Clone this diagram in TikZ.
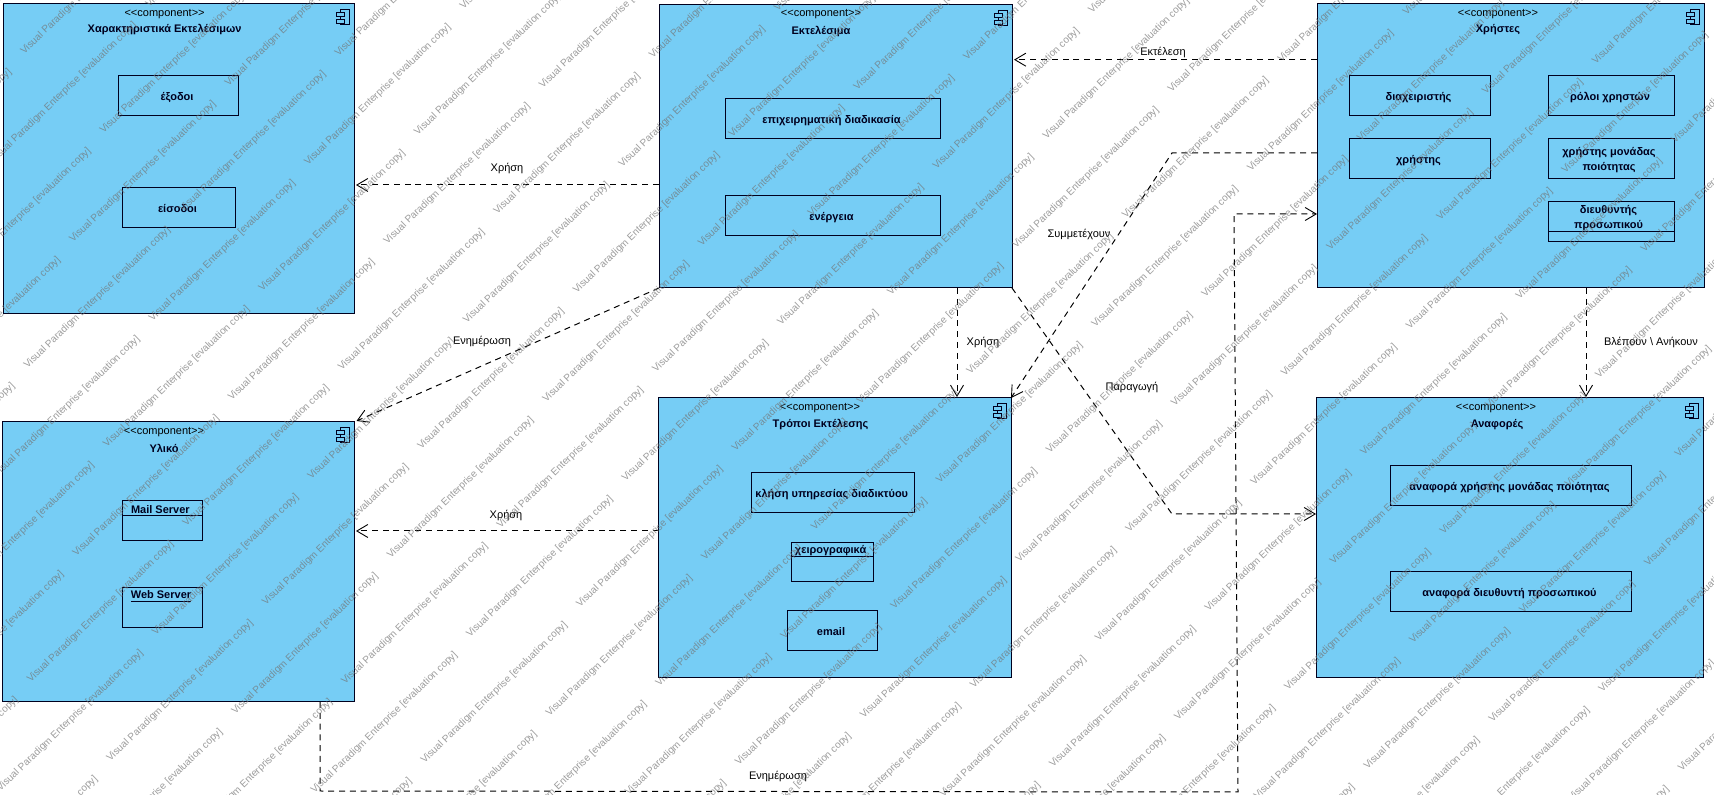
\documentclass[tikz,border=0pt]{standalone}
\usepackage{fontspec}
\setmainfont{Liberation Sans}
\usetikzlibrary{arrows.meta}
\definecolor{compblue}{RGB}{118,205,245}
\definecolor{inkline}{RGB}{0,0,30}
\definecolor{wmgray}{RGB}{115,115,115}
\newcommand{\sz}{\fontsize{5.5}{7.5}\selectfont}
\newcommand{\stereotext}{<{}<component>{}>}
\tikzset{
  x=0.5pt,y=-0.5pt,
  compbox/.style={draw=inkline,fill=compblue,line width=0.5pt,inner sep=0pt,outer sep=0pt},
  partbox/.style={draw=inkline,line width=0.5pt,inner sep=0pt,outer sep=0pt,align=center,font=\sz\bfseries,text=inkline,text height=5.3pt,text depth=1.2pt},
  stereo/.style={inner sep=0pt,font=\sz,text=black},
  compname/.style={inner sep=0pt,font=\sz\bfseries,text=inkline},
  parttitle/.style={inner sep=0pt,font=\sz\bfseries,text=inkline},
  lbl/.style={inner sep=0pt,font=\sz,text=black},
  depline/.style={draw=black,line width=0.5pt,dash pattern=on 3pt off 2.4pt,-{Straight Barb[length=5.5pt,width=6.5pt,line width=0.45pt]}},
  iconline/.style={draw=inkline,line width=0.5pt,fill=compblue},
  wmark/.style={inner sep=0pt,anchor=base west,rotate=44,font=\fontsize{5}{6}\selectfont,text=wmgray,text opacity=0.7},
}
% [style]{name}{x1}{y1}{x2}{y2}{text}
\newcommand{\umlbox}[7][]{%
  \node[#1,minimum width={(#5-#3)*0.5pt},minimum height={(#6-#4)*0.5pt}] (#2) at ({(#3+#5)/2},{(#4+#6)/2}) {#7\hspace*{1pt}};}
\newcommand{\compicon}[1]{%
  \draw[iconline,shift={(#1.north east)}] (-14,6) rectangle (-5,21);
  \draw[iconline,shift={(#1.north east)}] (-17.3,8.7) rectangle (-10,13);
  \draw[iconline,shift={(#1.north east)}] (-17.3,15.7) rectangle (-10,20);}
\begin{document}
\begin{tikzpicture}
\fill[white,use as bounding box] (0,0) rectangle (1714,795);
\begin{scope}[shift={(0,1)}]
% components
\umlbox[compbox]{A}{3}{3}{354}{313}{}
\umlbox[compbox]{B}{659}{4}{1012}{287}{}
\umlbox[compbox]{U}{1317}{3}{1704}{287}{}
\umlbox[compbox]{C}{658.5}{397}{1011}{677}{}
\umlbox[compbox]{E}{2.5}{421}{354}{701}{}
\umlbox[compbox]{D}{1316}{397}{1703}{677}{}
\compicon{A}\compicon{B}\compicon{U}\compicon{C}\compicon{E}\compicon{D}
% titles
\node[stereo] (As) at (164.6,13) {\stereotext};
\node[compname] (An) at (164.6,29) {Χαρακτηριστικά Εκτελέσιμων};
\node[stereo] (Bs) at (821,13.5) {\stereotext};
\node[compname] (Bn) at (821,30) {Εκτελέσιμα};
\node[stereo] (Us) at (1498,13) {\stereotext};
\node[compname] (Un) at (1498,29) {Χρήστες};
\node[stereo] (Cs) at (820,407.5) {\stereotext};
\node[compname] (Cn) at (820.5,424) {Τρόποι Εκτέλεσης};
\node[stereo] (Es) at (164,431) {\stereotext};
\node[compname] (En) at (164,447) {Υλικό};
\node[stereo] (Ds) at (1496,407.5) {\stereotext};
\node[compname] (Dn) at (1497,424) {Αναφορές};
% parts
\umlbox[partbox]{a1}{118}{75}{238}{115}{έξοδοι}
\umlbox[partbox]{a2}{122}{187}{235}{227}{είσοδοι}
\umlbox[partbox]{b1}{725}{98}{940}{138}{επιχειρηματική διαδικασία}
\umlbox[partbox]{b2}{725}{195}{940}{235}{ενέργεια}
\umlbox[partbox]{u1}{1349}{75}{1490}{115}{διαχειριστής}
\umlbox[partbox]{u2}{1349}{138}{1490}{178}{χρήστης}
\umlbox[partbox]{u3}{1548}{75}{1674}{115}{ρόλοι χρηστών}
\umlbox[partbox]{u4}{1548}{138}{1674}{178}{}
\node[parttitle,align=center] (u4t) at (1609,159) {χρήστης μονάδας\\ποιότητας};
\umlbox[partbox]{u5}{1548}{201}{1674}{241}{}
\node[parttitle,align=center] (u5t) at (1608.5,217) {διευθυντής\\προσωπικού};
\draw[draw=inkline,line width=0.5pt] (u5.west |- 0,231) -- (u5.east |- 0,231);
\umlbox[partbox]{c1}{751.5}{472}{914}{512}{κλήση υπηρεσίας διαδικτύου}
\umlbox[partbox]{c2}{791.5}{542}{873.6}{581}{}
\node[parttitle] (c2t) at (830.6,550) {χειρογραφικά};
\draw[draw=inkline,line width=0.5pt] (c2.west |- 0,556) -- (c2.east |- 0,556);
\umlbox[partbox]{c3}{787}{610}{877}{650}{email}
\umlbox[partbox]{e1}{122}{500}{202}{540}{}
\node[parttitle] (e1t) at (160.4,508.5) {Mail Server};
\draw[draw=inkline,line width=0.5pt] (e1.west |- 0,515) -- (e1.east |- 0,515);
\umlbox[partbox]{e2}{122}{587}{202}{627}{}
\node[parttitle] (e2t) at (161,596) {\underline{Web Server}};
\umlbox[partbox]{d1}{1390}{465}{1631}{505}{αναφορά χρήστης μονάδας ποιότητας}
\umlbox[partbox]{d2}{1390}{571}{1631}{611}{αναφορά διευθυντή προσωπικού}
% bends of the routed connectors
\coordinate (sm1) at (1172,152);
\coordinate (pr1) at (1172,513);
\coordinate (en1) at (320,790);
\coordinate (en2) at (1238,791);
\coordinate (en3) at (1234,213);
% connectors
\draw[depline] (B.west |- 0,184) -- ([xshift=1pt]A.east |- 0,184);
\draw[depline] (U.west |- 0,58.7) -- ([xshift=1pt]B.east |- 0,58.7);
\draw[depline] (C.west |- 0,530) -- ([xshift=1pt]E.east |- 0,530);
\draw[depline] (B.south west) -- ([shift={(2.5,-1)}]E.north east);
\draw[depline] (B.south -| 957,0) -- ([yshift=0.5pt]C.north -| 957,0);
\draw[depline] (U.south -| 1586,0) -- ([yshift=0.5pt]D.north -| 1586,0);
\draw[depline] (U.west |- sm1) -- (sm1) -- (C.north east);
\draw[depline] (B.south east) -- (pr1) -- (D.west |- pr1);
\draw[depline] (E.south -| en1) -- (en1) -- (en2) -- (en3) -- (U.west |- en3);
% connector labels
\node[lbl] (l1) at (507,168) {Χρήση};
\node[lbl] (l2) at (1163,52) {Εκτέλεση};
\node[lbl] (l3) at (506,515) {Χρήση};
\node[lbl] (l4) at (482,341) {Ενημέρωση};
\node[lbl] (l5) at (983,342) {Χρήση};
\node[lbl] (l6) at (1079,234) {Συμμετέχουν};
\node[lbl] (l7) at (1132,387) {Παραγωγή};
\node[lbl] (l8) at (1651,342) {Βλέπουν \textbackslash{} Ανήκουν};
\node[lbl] (l9) at (778,775) {Ενημέρωση};
\end{scope}
% evaluation watermark
\begin{scope}
\clip (0,0) rectangle (1714,795);
\foreach \n in {-10,...,14}{
  \foreach \m in {-8,...,8}{
    \foreach \k/\ox/\oy in {0/0/0,1/125/-47}{
      \pgfmathsetmacro{\wx}{24+\ox+79.4*\n+234.9*\m}
      \pgfmathsetmacro{\wy}{55+\oy+79*\n-77*\m}
      \pgfmathtruncatemacro{\vis}{(\wx>-150)&&(\wx<1714)&&(\wy>0)&&(\wy<940)}
      \ifnum\vis=1
        \node[wmark] (wm\k n\n m\m) at (\wx,\wy) {Visual Paradigm Enterprise [evaluation copy]};
      \fi
    }
  }
}
\end{scope}
\end{tikzpicture}
\end{document}
